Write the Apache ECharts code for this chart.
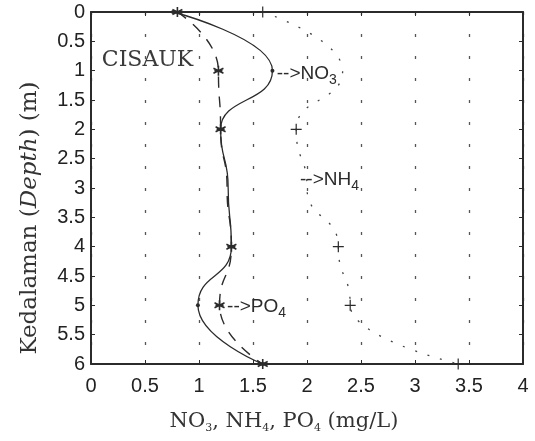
<!DOCTYPE html>
<html>
<head>
<meta charset="utf-8">
<script src="https://cdn.jsdelivr.net/npm/echarts@6/dist/echarts.min.js"></script>
<style>
  html, body { margin: 0; padding: 0; background: #ffffff; }
  #chart { width: 535px; height: 441px; }
</style>
</head>
<body>
<div id="chart"></div>
<script>
// ---- data ----
const depths = [0, 1, 2, 3, 4, 5, 6];                 // Kedalaman (m)
const no3 = [0.76, 1.68, 1.20, 1.27, 1.30, 0.99, 1.59]; // NO3 (mg/L)
const nh4 = [1.59, 2.33, 1.90, 2.00, 2.29, 2.40, 3.40]; // NH4 (mg/L)
const po4 = [0.80, 1.18, 1.20, 1.26, 1.30, 1.19, 1.59]; // PO4 (mg/L)
// depths where a marker is drawn (others only shape the curve)
const no3Marked = [0, 1, 2, 4, 5, 6];
const nh4Marked = [0, 2, 4, 5, 6];
const po4Marked = [0, 1, 2, 4, 5, 6];

const stationName = 'CISAUK';
const xTitle = 'NO{s|3}, NH{s|4}, PO{s|4} (mg/L)';
const yTitle = 'Kedalaman ({i|Depth}) (m)';

const ink = '#2b2b2b';
const toPairs = (vals) => depths.map((d, i) => [vals[i], d]);
const sizeFn = (marked, size) => (val) => marked.indexOf(val[1]) >= 0 ? size : 0;

const starPath = 'path://M0,-5L0,5M-4.33,-2.5L4.33,2.5M-4.33,2.5L4.33,-2.5M-3.5,0L3.5,0';
const plusPath = 'path://M-5,0L5,0M0,-5L0,5';

const chart = echarts.init(document.getElementById('chart'), null, { renderer: 'canvas' });

const axisCommon = {
  type: 'value',
  axisLine: { show: true, onZero: false, lineStyle: { color: ink, width: 2 } },
  axisTick: { show: true, inside: true, length: 4, lineStyle: { color: ink, width: 1 } },
  axisLabel: { color: '#222', fontFamily: 'Liberation Sans', fontSize: 20 }
};

chart.setOption({
  animation: false,
  backgroundColor: '#ffffff',
  grid: { left: 91, right: 12, top: 12, bottom: 77, show: false },
  xAxis: [
    Object.assign({}, axisCommon, {
      position: 'bottom', min: 0, max: 4, interval: 0.5,
      axisLabel: Object.assign({}, axisCommon.axisLabel, { margin: 12 }),
      splitLine: { show: true, lineStyle: { color: '#555', width: 1.3, type: [3, 19] } }
    }),
    Object.assign({}, axisCommon, {
      position: 'top', min: 0, max: 4, interval: 0.5,
      axisLabel: { show: false }, splitLine: { show: false }
    })
  ],
  yAxis: [
    Object.assign({}, axisCommon, {
      position: 'left', inverse: true, min: 0, max: 6, interval: 0.5,
      axisLabel: Object.assign({}, axisCommon.axisLabel, { margin: 6 }),
      splitLine: { show: false }
    }),
    Object.assign({}, axisCommon, {
      position: 'right', inverse: true, min: 0, max: 6, interval: 0.5,
      axisLabel: { show: false }, splitLine: { show: false }
    })
  ],
  series: [
    {
      name: 'NH4', type: 'line', data: toPairs(nh4),
      smooth: 0.55, smoothMonotone: 'y',
      lineStyle: { color: '#444', width: 1.3, type: [2, 11] },
      symbol: plusPath, symbolSize: sizeFn(nh4Marked, 11),
      itemStyle: { color: 'none', borderColor: ink, borderWidth: 1.2 },
      z: 2
    },
    {
      name: 'PO4', type: 'line', data: toPairs(po4),
      smooth: 0.55, smoothMonotone: 'y',
      lineStyle: { color: ink, width: 1.4, type: [11, 9] },
      symbol: starPath, symbolSize: sizeFn(po4Marked, 10),
      itemStyle: { color: 'none', borderColor: ink, borderWidth: 1.6 },
      z: 3
    },
    {
      name: 'NO3', type: 'line', data: toPairs(no3),
      smooth: 0.55, smoothMonotone: 'y',
      lineStyle: { color: ink, width: 1.3 },
      symbol: 'circle', symbolSize: sizeFn(no3Marked, 4),
      itemStyle: { color: ink },
      z: 4
    }
  ]
});

// annotations placed through the chart's own coordinate conversion
const px = (x, d) => chart.convertToPixel({ xAxisIndex: 0, yAxisIndex: 0 }, [x, d]);
const labelFont = { fontFamily: 'Liberation Sans', fontSize: 19, fill: '#2b2b2b' };
const subRich = { s: { fontFamily: 'Liberation Sans', fontSize: 14, padding: [9, 0, 0, 0], verticalAlign: 'top' },
                  b: { verticalAlign: 'top' } };

function note(x, d, text) {
  const p = px(x, d);
  return {
    type: 'text', x: p[0], y: p[1], z: 10,
    style: Object.assign({}, labelFont, { text: text, align: 'left', verticalAlign: 'middle', rich: subRich })
  };
}

const c = px(0.1, 0.83);
chart.setOption({
  graphic: [
    { type: 'text', x: c[0], y: c[1], z: 10,
      style: { text: stationName, fontFamily: 'DejaVu Serif', fontSize: 22, fill: '#3a3a3a', align: 'left', verticalAlign: 'middle' } },
    note(1.72, 1.08, '{b|-->NO}{s|3}'),
    note(1.935, 2.9, '{b|-->NH}{s|4}'),
    note(1.26, 5.05, '{b|-->PO}{s|4}'),
    { type: 'text', x: 284, y: 422, z: 10,
      style: { text: xTitle, fontFamily: 'DejaVu Serif', fontSize: 21, fill: '#333', align: 'center', verticalAlign: 'middle',
               rich: { s: { fontFamily: 'DejaVu Serif', fontSize: 11, padding: [12, 0, 0, 0], verticalAlign: 'top' } } } },
    { type: 'text', x: 30, y: 218, rotation: Math.PI / 2, z: 10,
      style: { text: yTitle, fontFamily: 'DejaVu Serif', fontSize: 23, fill: '#333', align: 'center', verticalAlign: 'middle',
               rich: { i: { fontFamily: 'DejaVu Serif', fontSize: 23, fontStyle: 'italic' } } } }
  ]
});
</script>
</body>
</html>
